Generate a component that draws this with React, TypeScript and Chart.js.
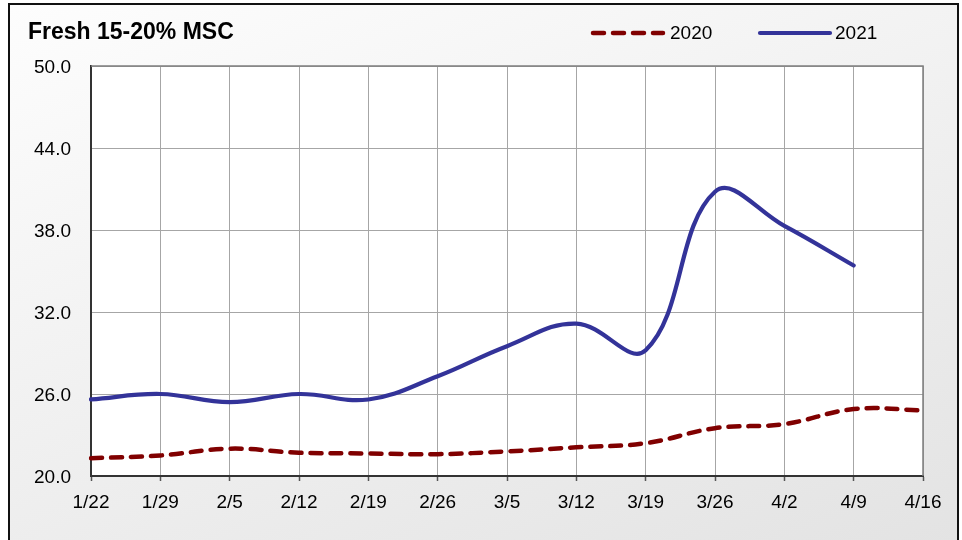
import React, { useEffect, useRef } from "react";
import { Chart, registerables } from "chart.js";

Chart.register(...registerables);

const titleText = "Fresh 15-20% MSC";
const categories = ["1/22", "1/29", "2/5", "2/12", "2/19", "2/26", "3/5", "3/12", "3/19", "3/26", "4/2", "4/9", "4/16"];
const series2020 = [21.3, 21.5, 22.0, 21.7, 21.65, 21.6, 21.8, 22.1, 22.4, 23.5, 23.8, 24.9, 24.8];
const series2021 = [25.6, 26.0, 25.4, 26.0, 25.6, 27.3, 29.5, 31.15, 29.2, 40.8, 38.3, 35.4, null];
const seriesNames = ["2020", "2021"];
const yMin = 20;
const yMax = 50;
const yStep = 6;

const FONT = "'Liberation Sans', Arial, sans-serif";

const decorPlugin = {
  id: "decor",
  beforeDraw(chart: any) {
    const { ctx, chartArea } = chart;
    ctx.save();
    ctx.fillStyle = "#ffffff";
    ctx.fillRect(chartArea.left, chartArea.top, chartArea.right - chartArea.left, chartArea.bottom - chartArea.top);
    ctx.restore();
  },
  afterDraw(chart: any) {
    const { ctx, chartArea } = chart;
    ctx.save();
    ctx.strokeStyle = "#7f7f7f";
    ctx.lineWidth = 1.5;
    ctx.beginPath();
    ctx.moveTo(chartArea.left, chartArea.top);
    ctx.lineTo(chartArea.right, chartArea.top);
    ctx.lineTo(chartArea.right, chartArea.bottom);
    ctx.stroke();

    ctx.fillStyle = "#000";
    ctx.font = `bold 23px ${FONT}`;
    ctx.textBaseline = "middle";
    ctx.textAlign = "left";
    ctx.fillText(titleText, 18, 28);

    const legendPos = [
      { x0: 583, x1: 653, tx: 660 },
      { x0: 750, x1: 820, tx: 825 },
    ];
    chart.data.datasets.forEach((ds: any, i: number) => {
      const p = legendPos[i];
      ctx.save();
      ctx.strokeStyle = ds.borderColor;
      ctx.lineWidth = ds.borderWidth;
      ctx.lineCap = ds.borderCapStyle || "butt";
      ctx.setLineDash(ds.borderDash || []);
      ctx.beginPath();
      ctx.moveTo(p.x0, 28);
      ctx.lineTo(p.x1, 28);
      ctx.stroke();
      ctx.restore();
      ctx.fillStyle = "#000";
      ctx.font = `19px ${FONT}`;
      ctx.textBaseline = "middle";
      ctx.textAlign = "left";
      ctx.fillText(ds.label, p.tx, 29);
    });
    ctx.restore();
  },
};

export default function App() {
  const ref = useRef<HTMLCanvasElement>(null);
  useEffect(() => {
    if (!ref.current) return;
    const chart = new Chart(ref.current, {
      type: "line",
      data: {
        labels: categories,
        datasets: [
          {
            label: seriesNames[0],
            data: series2020,
            borderColor: "#800000",
            borderWidth: 4.5,
            borderDash: [11, 9],
            borderCapStyle: "round",
            pointRadius: 0,
            tension: 0.4,
            fill: false,
          },
          {
            label: seriesNames[1],
            data: series2021,
            borderColor: "#333399",
            borderWidth: 4.2,
            borderCapStyle: "round",
            pointRadius: 0,
            tension: 0.4,
            fill: false,
          },
        ],
      },
      options: {
        animation: false,
        responsive: false,
        events: [],
        layout: { padding: { top: 61, right: 34, left: 0, bottom: 0 } },
        plugins: {
          legend: { display: false },
          title: { display: false },
          tooltip: { enabled: false },
        },
        scales: {
          x: {
            offset: false,
            afterFit(scale: any) {
              scale.height = 64;
            },
            grid: {
              color: "#a6a6a6",
              lineWidth: 1,
              tickLength: 5,
              tickColor: "#555",
              tickWidth: 1.5,
            },
            border: { color: "#333", width: 2 },
            ticks: {
              color: "#000",
              font: { family: FONT, size: 19 },
              padding: 10,
              maxRotation: 0,
              autoSkip: false,
            },
          },
          y: {
            min: yMin,
            max: yMax,
            afterFit(scale: any) {
              scale.width = 81;
            },
            grid: {
              color: "#a6a6a6",
              lineWidth: 1,
              drawTicks: false,
            },
            border: { color: "#333", width: 2 },
            ticks: {
              stepSize: yStep,
              color: "#000",
              font: { family: FONT, size: 19 },
              padding: 20,
              labelOffset: 2,
              callback: (v: any) => Number(v).toFixed(1),
            },
          },
        },
      },
      plugins: [decorPlugin],
    });
    return () => chart.destroy();
  }, []);

  return (
    <div
      style={{
        position: "fixed",
        left: 8,
        top: 3,
        width: 951,
        height: 545,
        boxSizing: "border-box",
        border: "2px solid #111",
        background: "linear-gradient(160deg, #fdfdfd 0%, #f0f0f0 50%, #e3e3e3 100%)",
      }}
    >
      <canvas ref={ref} width={947} height={535} style={{ position: "absolute", left: 0, top: 0 }} />
    </div>
  );
}
